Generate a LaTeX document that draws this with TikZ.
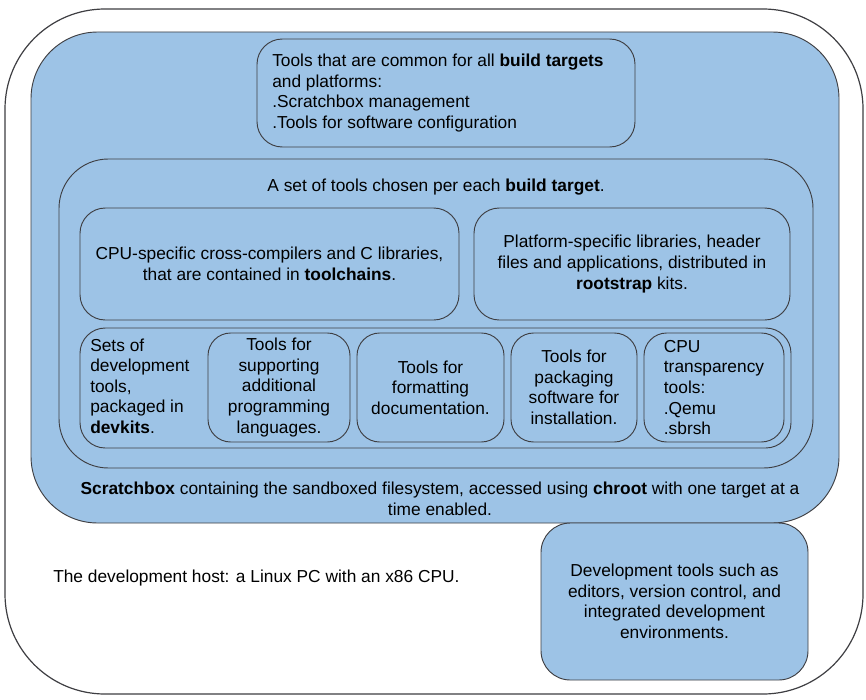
\documentclass[tikz,border=0pt]{standalone}
\usepackage{fontspec}
\setmainfont{Liberation Sans}
\usetikzlibrary{positioning}
\definecolor{sbblue}{RGB}{157,195,230}
\definecolor{edgegray}{RGB}{62,62,66}
\tikzset{
  hostbox/.style={
    draw=edgegray,
    fill=white,
    line width=0.9pt,
    rounded corners=75pt,
    inner sep=0pt,
  },
  groupbox/.style={
    draw=edgegray,
    fill=sbblue,
    line width=0.7pt,
    inner sep=0pt,
  },
  toolbox/.style={
    draw=edgegray,
    fill=sbblue,
    line width=0.7pt,
    rounded corners=17pt,
    inner sep=2pt,
    align=center,
    font=\fontsize{13}{15.4}\selectfont,
  },
  grouplabel/.style={
    align=center,
    inner sep=0pt,
    font=\fontsize{13}{15.4}\selectfont,
  },
}

\begin{document}
\begin{tikzpicture}[x=0.75pt, y=-0.75pt]
  \useasboundingbox (0,0) rectangle (866,699);

  % Host PC and the scratchbox inside it
  \node[hostbox, minimum width=643.5pt, minimum height=513.75pt] (host) at (434,351.5) {};
  \node[groupbox, rounded corners=50pt, minimum width=606pt, minimum height=368.25pt] (sbox) at (435,277.5) {};

  % Common tools
  \node[toolbox, rounded corners=19pt, minimum width=283.5pt, minimum height=81pt] (common) at (446,93) {};
  \node[grouplabel, align=left, anchor=west] (commonlbl) at (272,93)
    {Tools that are common for all \textbf{build targets}\\and platforms:\\.Scratchbox management\\.Tools for software configuration};

  % Per-target set
  \node[groupbox, rounded corners=37pt, minimum width=565.5pt, minimum height=231.75pt] (target) at (436,313.5) {};
  \node[grouplabel] (targetlbl) at (436,187) {A set of tools chosen per each \textbf{build target}.};

  \node[toolbox, rounded corners=19pt, minimum width=284.25pt, minimum height=84pt] (toolchain) at (269.5,264)
    {CPU-specific cross-compilers and C libraries,\\that are contained in \textbf{toolchains}.};
  \node[toolbox, rounded corners=19pt, minimum width=237pt, minimum height=84pt] (rootstrap) at (632,264)
    {Platform-specific libraries, header\\files and applications, distributed in\\\textbf{rootstrap} kits.};

  % Row of devkits
  \node[groupbox, rounded corners=19pt, minimum width=533.25pt, minimum height=90pt] (devkits) at (435.5,388) {};
  \node[grouplabel, align=left, anchor=west] (devkitslbl) at (90,386)
    {Sets of\\development\\tools,\\packaged in\\\textbf{devkits}.};
  \node[toolbox, minimum width=106.5pt, minimum height=81.75pt] (langs) at (279,387.5)
    {Tools for\\supporting\\additional\\programming\\languages.};
  \node[toolbox, minimum width=110.25pt, minimum height=81.75pt] (docs) at (430.5,387.5)
    {Tools for\\formatting\\documentation.};
  \node[toolbox, minimum width=94.5pt, minimum height=81.75pt] (pkg) at (574,387.5)
    {Tools for\\packaging\\software for\\installation.};
  \node[toolbox, align=left, minimum width=105pt, minimum height=81.75pt] (cputrans) at (714,387.5)
    {CPU\\transparency\\tools:\\.Qemu\\.sbrsh};

  \node[grouplabel] (sboxlbl) at (440,499)
    {\textbf{Scratchbox} containing the sandboxed filesystem, accessed using \textbf{chroot} with one target at a\\time enabled.};

  % Host side
  \node[grouplabel, anchor=west] (hostlbl) at (53,578) {The development host: a Linux PC with an x86 CPU.};
  \node[toolbox, rounded corners=22pt, minimum width=200.25pt, minimum height=117.75pt] (ide) at (674.5,601.5)
    {Development tools such as\\editors, version control, and\\integrated development\\environments.};
\end{tikzpicture}
\end{document}
